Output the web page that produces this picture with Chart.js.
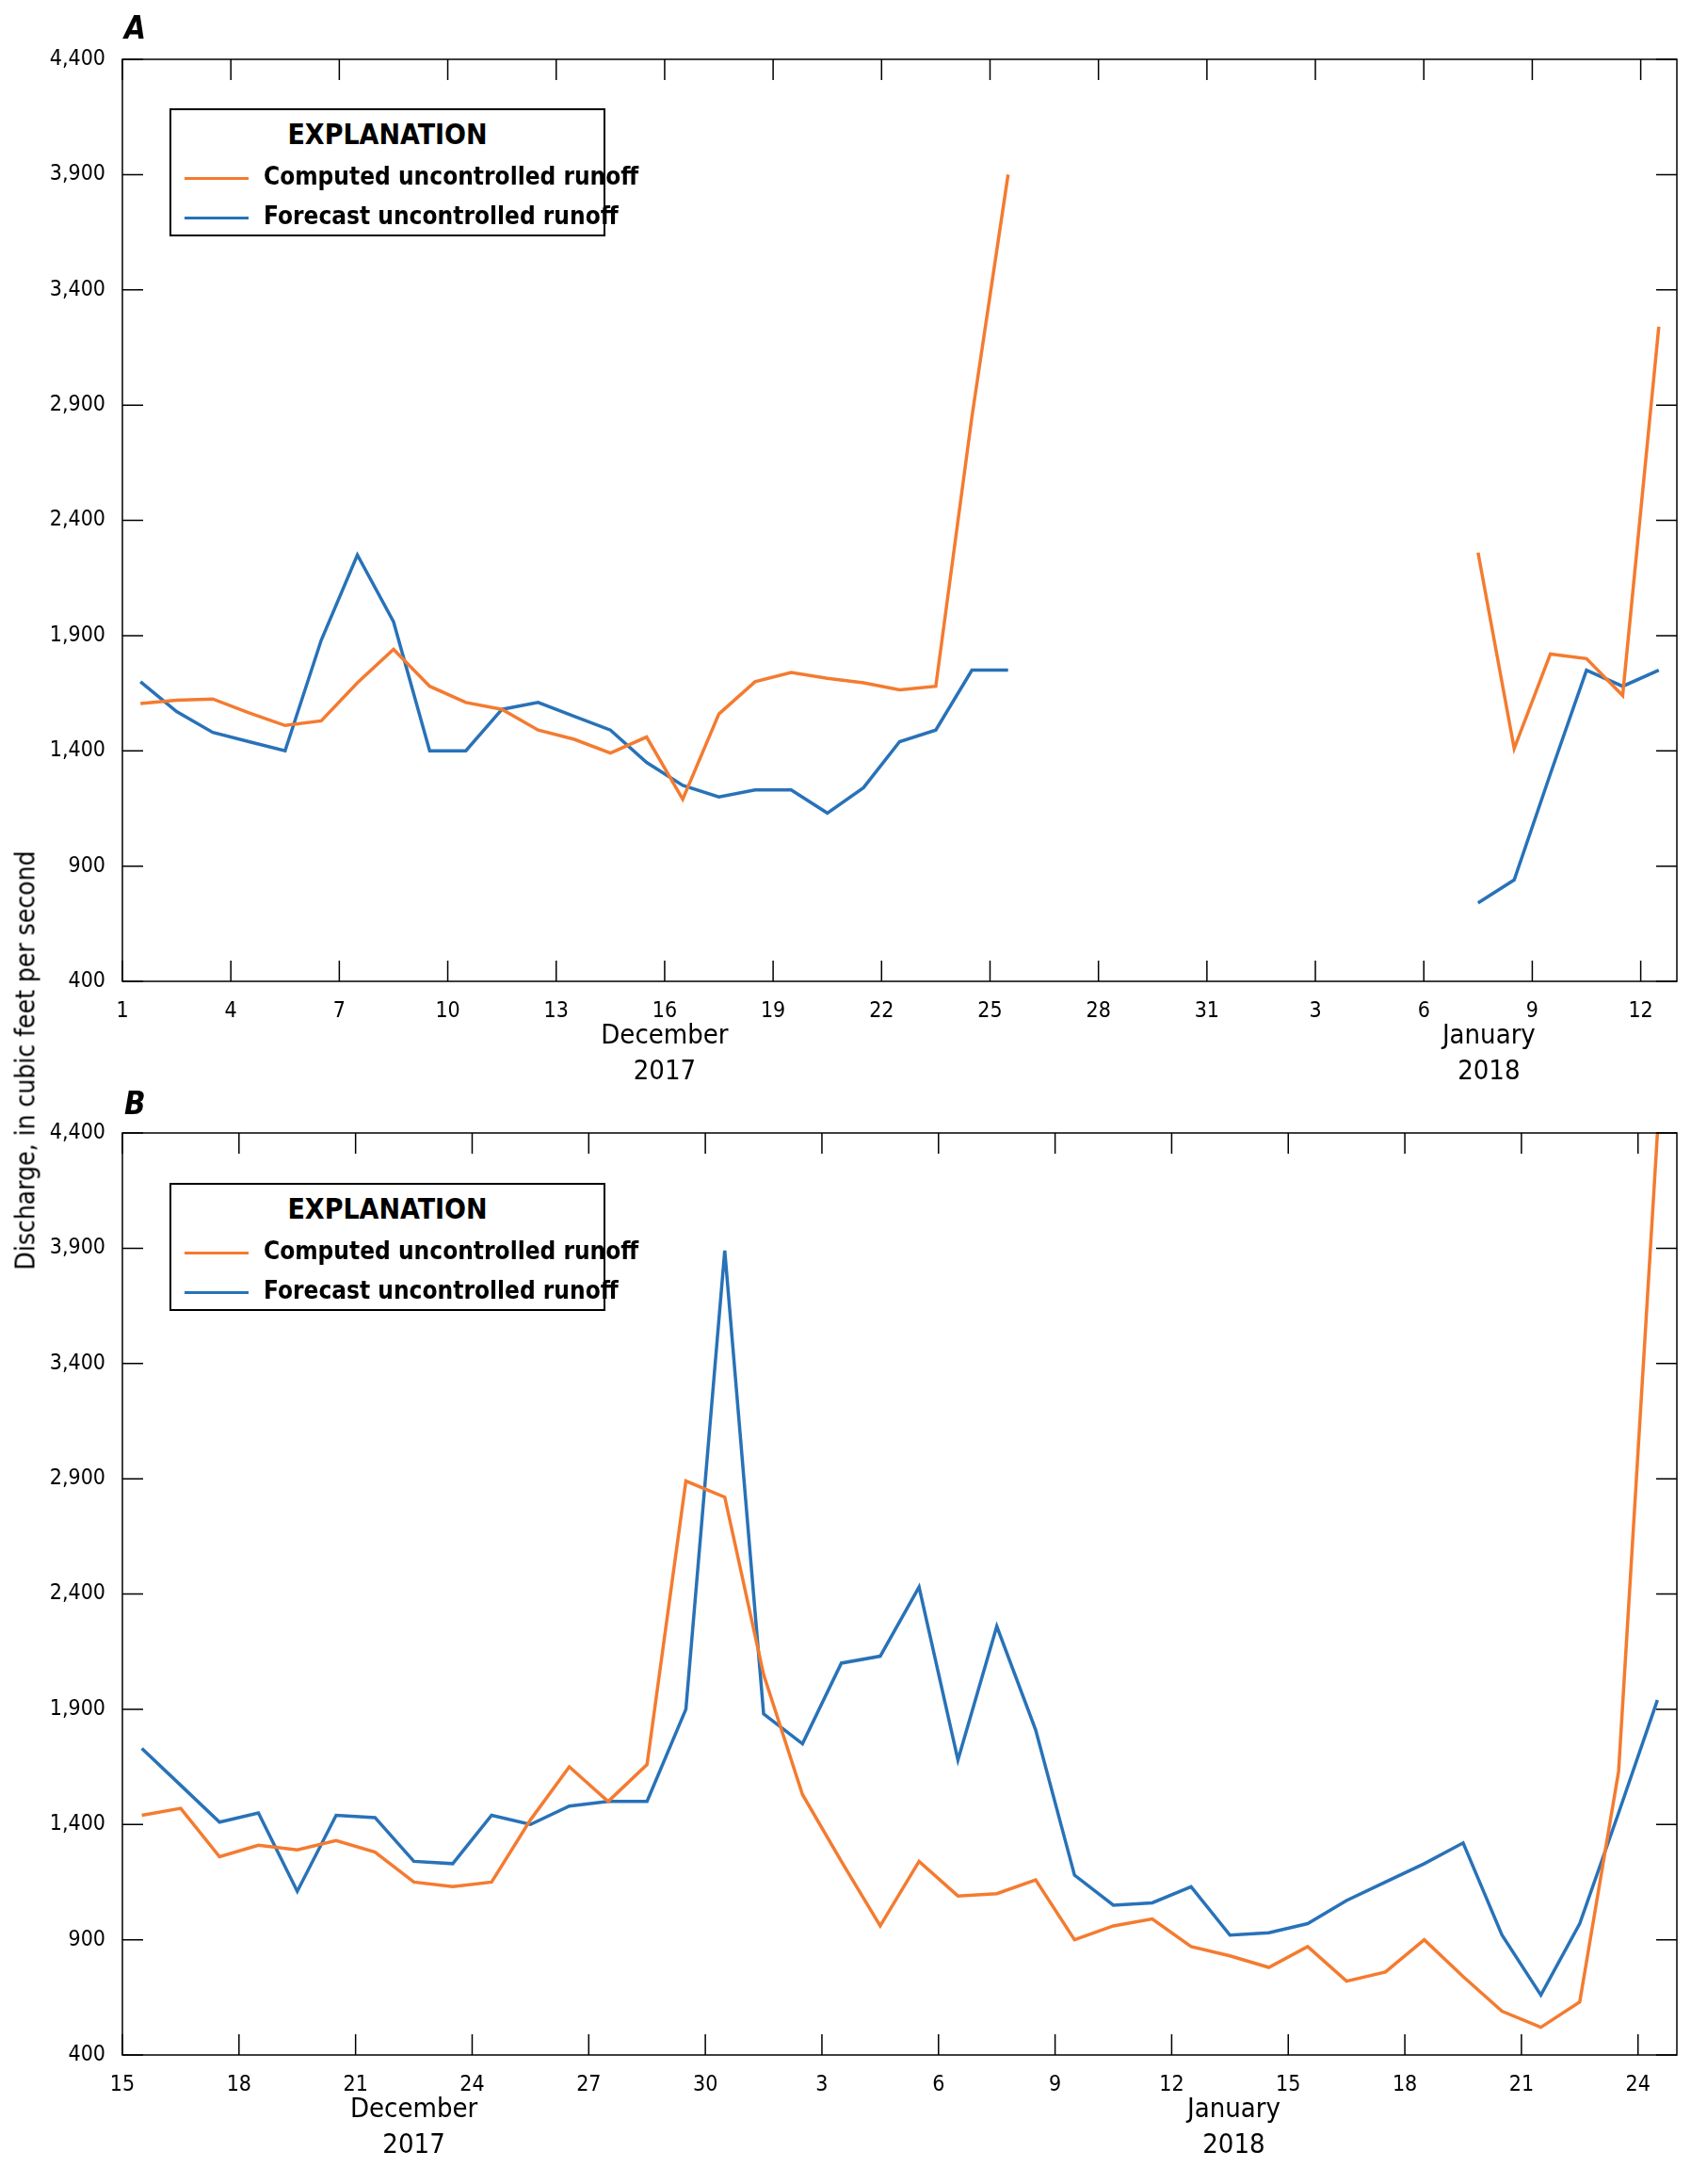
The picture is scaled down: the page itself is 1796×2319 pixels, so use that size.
<!DOCTYPE html>
<html><head><meta charset="utf-8">
<script src="https://cdn.jsdelivr.net/npm/chart.js@4/dist/chart.umd.min.js"></script>
<style>
body{margin:0;background:#fff;width:1796px;height:2319px;position:relative;overflow:hidden;font-family:'DejaVu Sans Condensed','Liberation Sans Narrow','Liberation Sans',sans-serif;}
.cw{position:absolute;left:0;width:1796px;}
.lab{position:absolute;font-weight:bold;font-style:italic;font-size:33px;}
.leg{position:absolute;border:2px solid #000;background:#fff;width:463px;height:136px;box-sizing:border-box;font-weight:bold;font-size:26px;white-space:nowrap;}
.leg .t{position:absolute;left:0;width:100%;top:8px;text-align:center;font-size:30px;}
.leg .r{position:absolute;left:98px;}
.leg .ln{position:absolute;left:14px;width:68px;height:3px;}
.yt{position:absolute;left:27px;top:1126px;transform:translate(-50%,-50%) rotate(-90deg);font-size:28px;white-space:nowrap;}
</style></head><body>
<div class="cw" style="top:0;height:1170px"><canvas id="ca"></canvas></div>
<div class="cw" style="top:1170px;height:1149px"><canvas id="cb"></canvas></div>
<div class="lab" style="left:132px;top:10px">A</div>
<div class="lab" style="left:132px;top:1152px">B</div>
<div class="yt">Discharge, in cubic feet per second</div>
<div class="leg" style="left:180px;top:115px"><div class="t">EXPLANATION</div>
<div class="ln" style="top:71px;background:#F47B30"></div><div class="r" style="top:55px">Computed uncontrolled runoff</div>
<div class="ln" style="top:113px;background:#2872B8"></div><div class="r" style="top:97px">Forecast uncontrolled runoff</div></div>
<div class="leg" style="left:180px;top:1256px"><div class="t">EXPLANATION</div>
<div class="ln" style="top:71px;background:#F47B30"></div><div class="r" style="top:55px">Computed uncontrolled runoff</div>
<div class="ln" style="top:113px;background:#2872B8"></div><div class="r" style="top:97px">Forecast uncontrolled runoff</div></div>
<script>
// Panel A: Dec 1 2017 – Jan 12 2018 (index 0 = Dec 1)
const computedA = [1605,1620,1625,1565,1510,1530,1695,1840,1680,1610,1580,1490,1450,1390,1460,1190,1560,1700,1740,1715,1695,1665,1680,2850,3900,
 null,null,null,null,null,null,null,null,null,null,null,null,2260,1410,1820,1800,1640,3240];
const forecastA = [1700,1570,1480,1440,1400,1880,2250,1960,1400,1400,1580,1610,1550,1490,1350,1250,1200,1230,1230,1130,1240,1440,1490,1750,1750,
 null,null,null,null,null,null,null,null,null,null,null,null,740,840,1300,1750,1680,1750];
const tickLabelsA = ['1','4','7','10','13','16','19','22','25','28','31','3','6','9','12'];
// Panel B: Dec 15 2017 – Jan 24 2018
const computedB = [1440,1470,1260,1310,1290,1330,1280,1150,1130,1150,1420,1650,1500,1660,2890,2820,2050,1530,1240,960,1240,1090,1100,1160,900,960,990,870,830,780,870,720,760,900,740,590,520,630,1630,4400];
const forecastB = [1730,1570,1410,1450,1110,1440,1430,1240,1230,1440,1400,1480,1500,1500,1900,3890,1880,1750,2100,2130,2430,1680,2260,1810,1180,1050,1060,1130,920,930,970,1070,1150,1230,1320,920,660,970,1450,1940];
const tickLabelsB = ['15','18','21','24','27','30','3','6','9','12','15','18','21','24'];

const FONT="'DejaVu Sans Condensed','Liberation Sans Narrow','Liberation Sans',sans-serif";
const ORANGE='#F47B30', BLUE='#2872B8';
function pts(arr){return arr.map((v,i)=>({x:i+0.5,y:v}));}
const frame={id:'frame',afterDraw(c,a,o){const ctx=c.ctx,ca=c.chartArea,L=22;ctx.save();ctx.strokeStyle='#000';ctx.lineWidth=1.5;
 ctx.strokeRect(ca.left,ca.top,ca.right-ca.left,ca.bottom-ca.top);ctx.beginPath();
 c.scales.x.ticks.forEach(t=>{const px=c.scales.x.getPixelForValue(t.value);ctx.moveTo(px,ca.top);ctx.lineTo(px,ca.top+L);ctx.moveTo(px,ca.bottom);ctx.lineTo(px,ca.bottom-L);});
 c.scales.y.ticks.forEach(t=>{const py=c.scales.y.getPixelForValue(t.value);ctx.moveTo(ca.left,py);ctx.lineTo(ca.left+L,py);ctx.moveTo(ca.right,py);ctx.lineTo(ca.right-L,py);});
 ctx.stroke();
 ctx.fillStyle='#000';ctx.font='29px '+FONT;ctx.textAlign='center';
 o.months.forEach(m=>{const px=c.scales.x.getPixelForValue(m.x);ctx.fillText(m.t1,px,ca.bottom+66);ctx.fillText(m.t2,px,ca.bottom+104);});
 ctx.restore();}};
function make(id,comp,fc,labels,tickStep,xmax,top,axH,months){
 new Chart(document.getElementById(id),{type:'line',
 data:{datasets:[{data:pts(comp),borderColor:ORANGE,borderWidth:3.5,pointRadius:0,spanGaps:false,tension:0},
  {data:pts(fc),borderColor:BLUE,borderWidth:3.5,pointRadius:0,spanGaps:false,tension:0}]},
 options:{responsive:true,maintainAspectRatio:false,animation:false,
  layout:{padding:{top:top,right:15,left:0,bottom:0}},
  plugins:{legend:{display:false},tooltip:{enabled:false},frame:{months:months}},
  scales:{
   x:{type:'linear',min:0,max:xmax,grid:{display:false},border:{display:false},
     afterBuildTicks:s=>{s.ticks=labels.map((l,i)=>({value:i*tickStep}));},
     afterFit:s=>{s.height=axH;},
     ticks:{autoSkip:false,maxRotation:0,padding:10,color:'#000',font:{size:23,family:FONT},callback:(v,i)=>labels[i]}},
   y:{min:400,max:4400,grid:{display:false},border:{display:false},
     afterBuildTicks:s=>{const t=[];for(let v=400;v<=4400;v+=500)t.push({value:v});s.ticks=t;},
     afterFit:s=>{s.width=130;},
     ticks:{padding:10,color:'#000',font:{size:23,family:FONT},callback:v=>v.toLocaleString('en-US')}}}}},
 );
}
Chart.register(frame);
make('ca',computedA,forecastA,tickLabelsA,3,43,63,128,[{x:15,t1:'December',t2:'2017'},{x:37.8,t1:'January',t2:'2018'}]);
make('cb',computedB,forecastB,tickLabelsB,3,40,33,137,[{x:7.5,t1:'December',t2:'2017'},{x:28.6,t1:'January',t2:'2018'}]);
</script></body></html>
